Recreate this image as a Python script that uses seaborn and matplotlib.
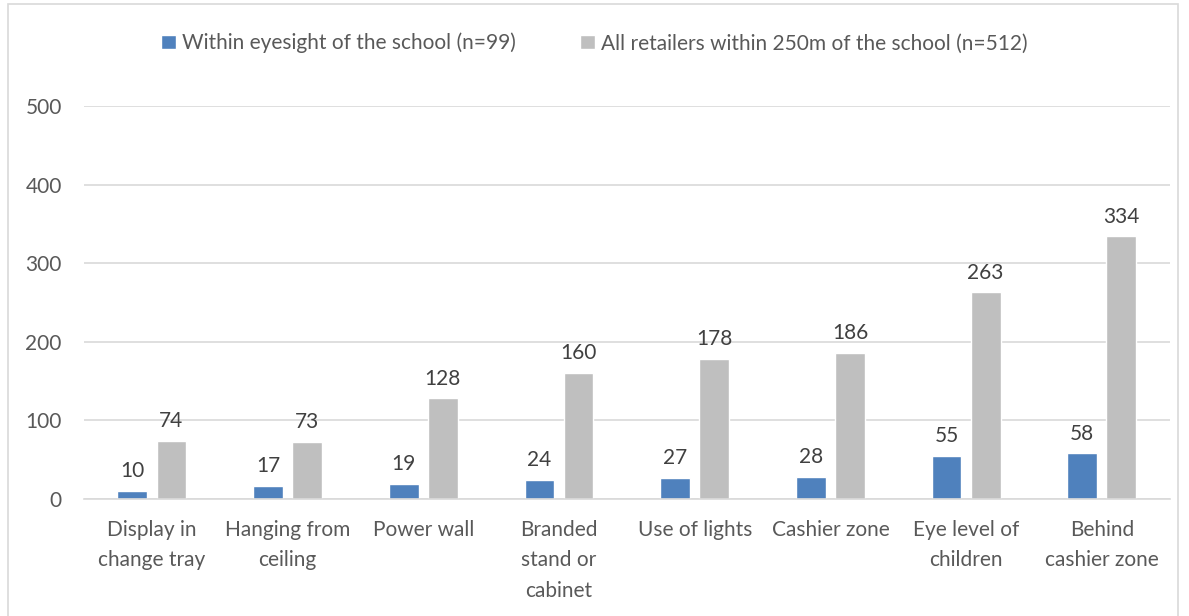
import matplotlib
matplotlib.use("Agg")
import matplotlib.pyplot as plt
import seaborn as sns
import pandas as pd
from matplotlib.patches import Rectangle

categories = ["Display in\nchange tray", "Hanging from\nceiling", "Power wall",
              "Branded\nstand or\ncabinet", "Use of lights", "Cashier zone",
              "Eye level of\nchildren", "Behind\ncashier zone"]
series_names = ["Within eyesight of the school (n=99)",
                "All retailers within 250m of the school (n=512)"]
eyesight = [10, 17, 19, 24, 27, 28, 55, 58]
all_250m = [74, 73, 128, 160, 178, 186, 263, 334]
y_ticks = [0, 100, 200, 300, 400, 500]

colors = ["#4F81BD", "#BFBFBF"]
text_color = "#595959"

df = pd.DataFrame({
    "category": categories * 2,
    "series": [series_names[0]] * len(categories) + [series_names[1]] * len(categories),
    "value": eyesight + all_250m,
})

sns.set_theme(style="white")
plt.rcParams["font.family"] = ["Lato", "DejaVu Sans"]

fig = plt.figure(figsize=(11.89, 6.16), dpi=100)
ax = fig.add_axes([0.0707, 0.19, 0.913, 0.638])

sns.barplot(data=df, x="category", y="value", hue="series", order=categories,
            hue_order=series_names, palette=colors, width=0.576, gap=0.236,
            saturation=1, ax=ax, errorbar=None)

ax.set_ylim(0, 500)
ax.set_xlim(-0.5, len(categories) - 0.5)
ax.set_yticks(y_ticks)
ax.yaxis.grid(True, color="#D9D9D9", linewidth=1.2)
ax.set_axisbelow(True)
for s in ["top", "right", "left"]:
    ax.spines[s].set_visible(False)
ax.spines["bottom"].set_color("#D9D9D9")
ax.spines["bottom"].set_linewidth(1.2)
ax.set_xlabel("")
ax.set_ylabel("")
ax.tick_params(axis="both", length=0, labelsize=15, colors=text_color)
ax.tick_params(axis="y", pad=16)
ax.tick_params(axis="x", pad=15)
for lab in ax.get_xticklabels():
    lab.set_linespacing(1.65)
    lab.set_verticalalignment("top")

for container in ax.containers:
    ax.bar_label(container, padding=7, fontsize=15, color="#404040")

handles, labels = ax.get_legend_handles_labels()
ax.legend(handles, labels, loc="center", bbox_to_anchor=(0.5, 0.930),
          bbox_transform=fig.transFigure, ncol=2, frameon=False,
          fontsize=15, labelcolor=text_color, handlelength=0.7,
          handleheight=0.7, handletextpad=0.3, columnspacing=3.1)

fig.patches.append(Rectangle((8 / 1189, -0.01), 1170 / 1189, 1 - 4 / 616 + 0.01,
                             transform=fig.transFigure, fill=False,
                             edgecolor="#D9D9D9", linewidth=1.2))

fig.savefig("out.png", dpi=100)
